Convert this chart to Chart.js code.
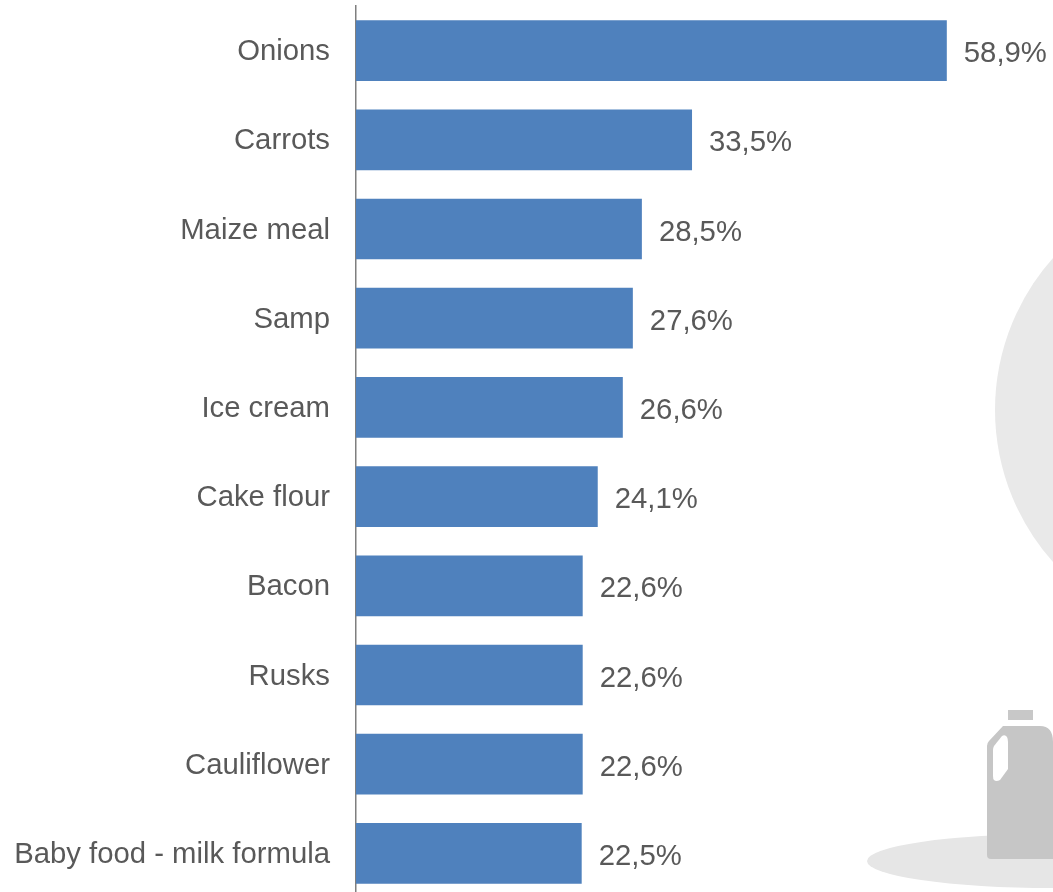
<!DOCTYPE html>
<html>
<head>
<meta charset="utf-8">
<style>
  html, body { margin: 0; padding: 0; background: #fff; overflow: hidden; }
  #stage { position: relative; width: 1053px; height: 892px; overflow: hidden; }
  #decor { position: absolute; left: 0; top: 0; }
  #wrap { position: absolute; left: 0; top: 0; width: 1053px; height: 898px; }
</style>
<script src="https://cdn.jsdelivr.net/npm/chart.js@4"></script>
</head>
<body>
<div id="stage">
  <svg id="decor" width="1053" height="892" viewBox="0 0 1053 892">
    <circle cx="1223" cy="410" r="228" fill="#e9e9e9"/>
    <ellipse cx="1052" cy="861" rx="185" ry="27" fill="#e6e6e6"/>
    <rect x="1008" y="710" width="25" height="10" fill="#c8c8c8"/>
    <path d="M1003 726 H1040 Q1053 726 1053 742 V859 H991 Q987 859 987 855 V746 Q987 743 989 741 Z" fill="#c6c6c6"/>
    <path d="M1002 736 Q1005 734 1007 737 Q1008 739 1008 742 V769 L1000 780 Q996 782 994 780 Q993 779 993 776 V750 Q993 748 994 746 Z" fill="#fff"/>
  </svg>
  <div id="wrap"><canvas id="chart" width="1053" height="898"></canvas></div>
</div>
<script>
const categories = ["Onions", "Carrots", "Maize meal", "Samp", "Ice cream", "Cake flour", "Bacon", "Rusks", "Cauliflower", "Baby food - milk formula"];
const shares = [58.9, 33.5, 28.5, 27.6, 26.6, 24.1, 22.6, 22.6, 22.6, 22.5];
const barColor = "#4f81bd";
const textColor = "#595959";
const fontFamily = "'Liberation Sans', Arial, sans-serif";
const fontSize = 29.3;

// Writes each bar's share just past its end, with a decimal comma.
const shareLabels = {
  id: "shareLabels",
  afterDatasetsDraw(chart) {
    const { ctx } = chart;
    const bars = chart.getDatasetMeta(0).data;
    ctx.save();
    ctx.font = fontSize + "px " + fontFamily;
    ctx.fillStyle = textColor;
    ctx.textAlign = "left";
    ctx.textBaseline = "middle";
    bars.forEach((bar, i) => {
      const text = shares[i].toFixed(1).replace(".", ",") + "%";
      ctx.fillText(text, bar.x + 17, bar.y + 3.5);
    });
    ctx.restore();
  }
};

new Chart(document.getElementById("chart"), {
  type: "bar",
  plugins: [shareLabels],
  data: {
    labels: categories,
    datasets: [{
      data: shares,
      backgroundColor: barColor,
      borderWidth: 0,
      barPercentage: 0.68,
      categoryPercentage: 1
    }]
  },
  options: {
    indexAxis: "y",
    responsive: false,
    animation: false,
    layout: { padding: { top: 6, right: 45, bottom: 0, left: 0 } },
    plugins: { legend: { display: false }, tooltip: { enabled: false }, title: { display: false } },
    scales: {
      x: {
        min: 0,
        max: 65,
        display: false
      },
      y: {
        // Fixed gutter for the category names; no extra room above or below the bands.
        afterFit(scale) {
          scale.width = 356;
          scale.paddingTop = 0;
          scale.paddingBottom = 0;
        },
        grid: { display: false, drawTicks: false },
        border: { display: true, color: "#7f7f7f", width: 1.5 },
        ticks: {
          color: textColor,
          font: { family: fontFamily, size: fontSize },
          padding: 26,
          labelOffset: 1.5,
          autoSkip: false
        }
      }
    }
  }
});
</script>
</body>
</html>
